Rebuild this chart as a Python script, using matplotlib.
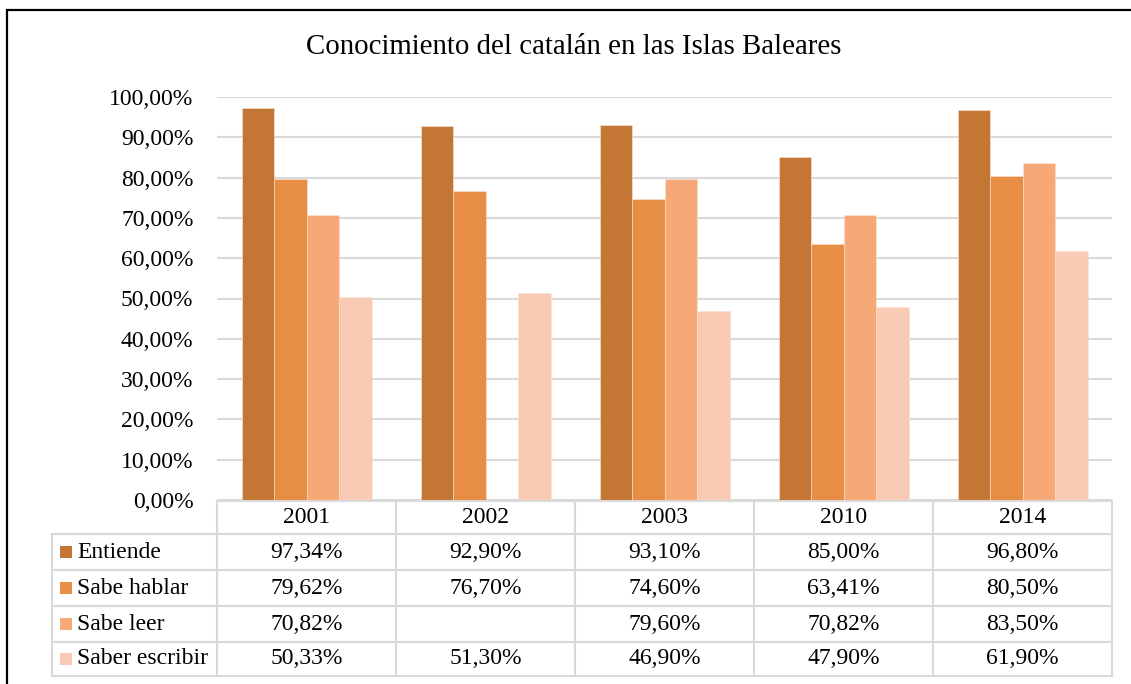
import matplotlib.pyplot as plt
import matplotlib.transforms as mtransforms
from matplotlib.patches import Rectangle
import numpy as np

plt.rcParams['font.family'] = ['Liberation Serif', 'DejaVu Serif']

years = ['2001', '2002', '2003', '2010', '2014']
series = ['Entiende', 'Sabe hablar', 'Sabe leer', 'Saber escribir']
entiende = [97.34, 92.90, 93.10, 85.00, 96.80]
sabe_hablar = [79.62, 76.70, 74.60, 63.41, 80.50]
sabe_leer = [70.82, None, 79.60, 70.82, 83.50]
saber_escribir = [50.33, 51.30, 46.90, 47.90, 61.90]
colors = ['#C47735', '#E88D44', '#F6A976', '#F8CAB4']

values = [entiende, sabe_hablar, sabe_leer, saber_escribir]
fs = 17

W, H = 1131, 684
fig = plt.figure(figsize=(W / 100, H / 100), dpi=100)
ax = fig.add_axes([217 / W, 1 - 500 / H, (1112 - 217) / W, (500 - 97) / H])

# outer frame
fig.patches.append(Rectangle((7 / W, -0.1), 1.2, 1 - 10 / H + 0.1, transform=fig.transFigure,
                             fill=False, edgecolor='black', linewidth=1.6, clip_on=False))

x = np.arange(len(years))
bw = 32.5 / 179
for i, (name, vals) in enumerate(zip(series, values)):
    v = [np.nan if a is None else a for a in vals]
    ax.bar(x + (i - 1.5) * bw, v, width=bw, color=colors[i], edgecolor='#FBE3D2',
           linewidth=0.4, zorder=3, label=name)

ax.set_xlim(-0.5, len(years) - 0.5)
ax.set_ylim(0, 100)
ax.set_yticks(np.arange(0, 101, 10))
ax.set_yticklabels([f'{t:.2f}%'.replace('.', ',') for t in np.arange(0, 101, 10)], fontsize=fs)
ax.tick_params(axis='y', length=0, pad=17)
ax.set_xticks([])
ax.yaxis.grid(True, color='#D9D9D9', linewidth=1.5, zorder=0)
for s in ax.spines.values():
    s.set_visible(False)

fig.text(574 / W, 1 - 47 / H, 'Conocimiento del catalán en las Islas Baleares',
         ha='center', va='center', fontsize=20.8)

# data table below the axes
trans = mtransforms.blended_transform_factory(ax.transData, ax.transAxes)
px = 1 / 403.0
row_edges = [-1 * px, -34 * px, -70 * px, -106 * px, -142 * px, -176 * px]
left_lab = -0.5 - 165 / 179
lc = '#D9D9D9'
lw = 1.5
right = len(years) - 0.5
# horizontal lines
ax.plot([-0.5, right], [row_edges[0]] * 2, color=lc, lw=lw, transform=trans, clip_on=False)
for yy in row_edges[1:]:
    ax.plot([left_lab, right], [yy] * 2, color=lc, lw=lw, transform=trans, clip_on=False)
# vertical lines
for k in range(len(years) + 1):
    ax.plot([k - 0.5] * 2, [row_edges[0], row_edges[-1]], color=lc, lw=lw, transform=trans, clip_on=False)
ax.plot([left_lab] * 2, [row_edges[1], row_edges[-1]], color=lc, lw=lw, transform=trans, clip_on=False)

# header
for k, yr in enumerate(years):
    ax.text(k, (row_edges[0] + row_edges[1]) / 2, yr, ha='center', va='center',
            fontsize=fs, transform=trans)
# rows
sq = 12 / 179
for r, (name, vals) in enumerate(zip(series, values)):
    yc = (row_edges[r + 1] + row_edges[r + 2]) / 2
    ax.add_patch(Rectangle((left_lab + 8 / 179, yc - 6 * px), sq, 12 * px, transform=trans,
                           facecolor=colors[r], edgecolor='none', clip_on=False))
    ax.text(left_lab + 25 / 179, yc, name, ha='left', va='center', fontsize=fs, transform=trans)
    for k, v in enumerate(vals):
        if v is None:
            continue
        ax.text(k, yc, f'{v:.2f}%'.replace('.', ','), ha='center', va='center',
                fontsize=fs, transform=trans)

fig.savefig('out.png', dpi=100)
